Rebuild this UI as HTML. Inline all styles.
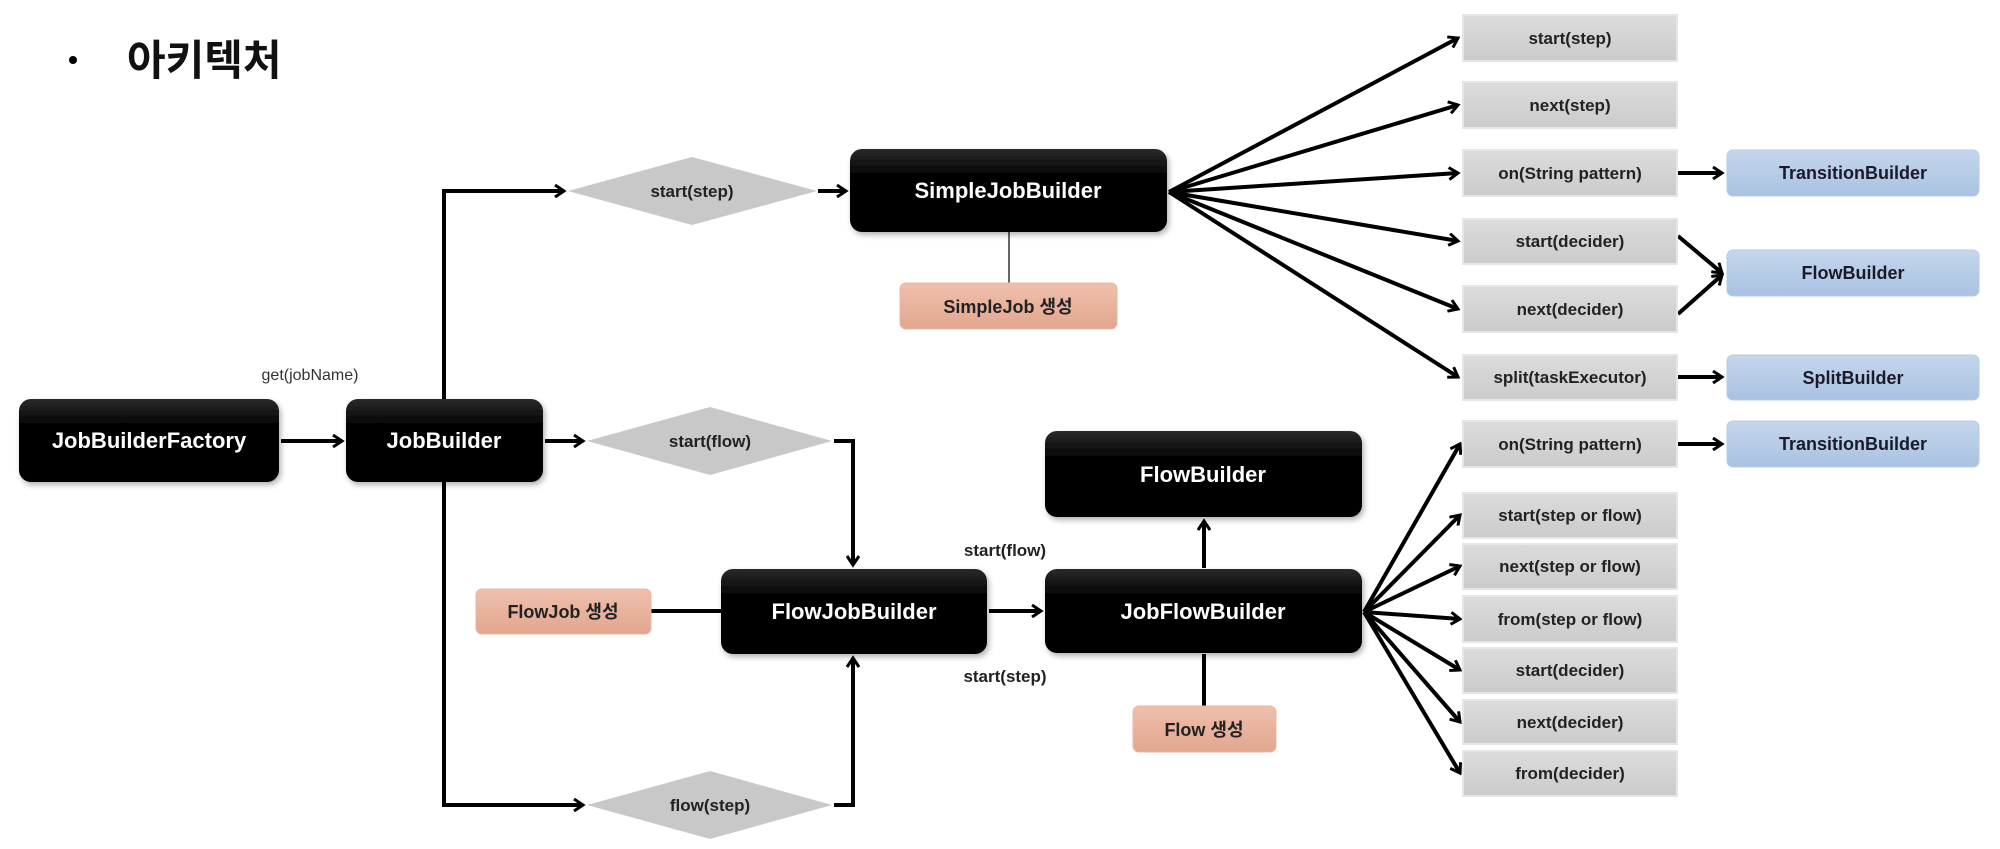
<!DOCTYPE html>
<html><head><meta charset="utf-8"><style>
html,body{margin:0;padding:0;background:#fff;}
svg{display:block;}
text{font-family:"Liberation Sans","Noto Sans CJK KR",sans-serif;font-weight:bold;}
</style></head><body>
<svg width="2000" height="849" viewBox="0 0 2000 849" xmlns="http://www.w3.org/2000/svg">
<defs>
<linearGradient id="blk" x1="0" y1="0" x2="0" y2="1"><stop offset="0" stop-color="#2a2a2a"/><stop offset="0.3" stop-color="#050505"/><stop offset="1" stop-color="#000"/></linearGradient>
<linearGradient id="gry" x1="0" y1="0" x2="0" y2="1"><stop offset="0" stop-color="#dcdcdc"/><stop offset="1" stop-color="#cbcbcb"/></linearGradient>
<linearGradient id="blu" x1="0" y1="0" x2="0" y2="1"><stop offset="0" stop-color="#c5d6ec"/><stop offset="1" stop-color="#a9c2e2"/></linearGradient>
<linearGradient id="sal" x1="0" y1="0" x2="0" y2="1"><stop offset="0" stop-color="#efc0ad"/><stop offset="1" stop-color="#e2a68e"/></linearGradient>
<marker id="ar" markerWidth="14" markerHeight="14" refX="11" refY="7" orient="auto" markerUnits="userSpaceOnUse">
<path d="M2,1 L11,7 L2,13" fill="none" stroke="#000" stroke-width="3"/></marker>
<filter id="sh" x="-5%" y="-10%" width="110%" height="130%"><feDropShadow dx="2" dy="3" stdDeviation="3" flood-color="#000" flood-opacity="0.3"/></filter>
</defs>

<!-- title -->
<circle cx="73" cy="60" r="4" fill="#000"/>
<text x="127" y="75" font-size="42" fill="#111" style="font-family:'Noto Sans CJK KR',sans-serif">아키텍처</text>

<!-- connectors left -->
<g stroke="#000" stroke-width="4" fill="none">
<line x1="281" y1="441" x2="342" y2="441" marker-end="url(#ar)"/>
<line x1="545" y1="441" x2="583" y2="441" marker-end="url(#ar)"/>
<polyline points="444,399 444,191 564,191" marker-end="url(#ar)"/>
<polyline points="444,482 444,805 583,805" marker-end="url(#ar)"/>
<line x1="818" y1="191" x2="846" y2="191" marker-end="url(#ar)"/>
<polyline points="834,441 853,441 853,565" marker-end="url(#ar)"/>
<polyline points="834,805 853,805 853,658" marker-end="url(#ar)"/>
<line x1="651" y1="611" x2="721" y2="611"/>
<line x1="989" y1="611" x2="1041" y2="611" marker-end="url(#ar)"/>
<line x1="1204" y1="568" x2="1204" y2="521" marker-end="url(#ar)"/>
<line x1="1204" y1="654" x2="1204" y2="707"/>
</g>
<line x1="1009" y1="232" x2="1009" y2="283" stroke="#666" stroke-width="2"/>

<!-- fan from SimpleJobBuilder -->
<g stroke="#000" stroke-width="4" fill="none">
<line x1="1169" y1="192" x2="1458" y2="38" marker-end="url(#ar)"/>
<line x1="1169" y1="192" x2="1458" y2="105" marker-end="url(#ar)"/>
<line x1="1169" y1="192" x2="1458" y2="173" marker-end="url(#ar)"/>
<line x1="1169" y1="192" x2="1458" y2="241" marker-end="url(#ar)"/>
<line x1="1169" y1="192" x2="1458" y2="309" marker-end="url(#ar)"/>
<line x1="1169" y1="192" x2="1458" y2="377" marker-end="url(#ar)"/>
<line x1="1678" y1="173" x2="1722" y2="173" marker-end="url(#ar)"/>
<line x1="1678" y1="236" x2="1722" y2="273" marker-end="url(#ar)"/>
<line x1="1678" y1="314" x2="1722" y2="275" marker-end="url(#ar)"/>
<line x1="1678" y1="377" x2="1722" y2="377" marker-end="url(#ar)"/>
<line x1="1678" y1="444" x2="1722" y2="444" marker-end="url(#ar)"/>
<!-- fan from JobFlowBuilder -->
<line x1="1364" y1="612" x2="1460" y2="444" marker-end="url(#ar)"/>
<line x1="1364" y1="612" x2="1460" y2="515" marker-end="url(#ar)"/>
<line x1="1364" y1="612" x2="1460" y2="566" marker-end="url(#ar)"/>
<line x1="1364" y1="612" x2="1460" y2="619" marker-end="url(#ar)"/>
<line x1="1364" y1="612" x2="1460" y2="670" marker-end="url(#ar)"/>
<line x1="1364" y1="612" x2="1460" y2="722" marker-end="url(#ar)"/>
<line x1="1364" y1="612" x2="1460" y2="773" marker-end="url(#ar)"/>
</g>

<!-- diamonds -->
<g fill="#c8c8c8">
<polygon points="568,191 692,157 817,191 692,225"/>
<polygon points="587,441 710,407 832,441 710,475"/>
<polygon points="587,805 710,771 832,805 710,839"/>
</g>
<g font-size="17" fill="#222" text-anchor="middle">
<text x="692" y="197">start(step)</text>
<text x="710" y="447">start(flow)</text>
<text x="710" y="811">flow(step)</text>
</g>

<!-- black boxes -->
<g fill="url(#blk)" filter="url(#sh)">
<rect x="19" y="399" width="260" height="83" rx="12"/>
<rect x="346" y="399" width="197" height="83" rx="12"/>
<rect x="850" y="149" width="317" height="83" rx="12"/>
<rect x="721" y="569" width="266" height="85" rx="12"/>
<rect x="1045" y="569" width="317" height="84" rx="12"/>
<rect x="1045" y="431" width="317" height="86" rx="12"/>
</g>
<g font-size="22" fill="#fff" text-anchor="middle">
<text x="149" y="448">JobBuilderFactory</text>
<text x="444" y="448">JobBuilder</text>
<text x="1008" y="198">SimpleJobBuilder</text>
<text x="854" y="619">FlowJobBuilder</text>
<text x="1203" y="619">JobFlowBuilder</text>
<text x="1203" y="482">FlowBuilder</text>
</g>

<!-- salmon -->
<g fill="url(#sal)" stroke="#e8b7a2" stroke-width="1">
<rect x="900" y="283" width="217" height="46" rx="6"/>
<rect x="476" y="589" width="175" height="45" rx="6"/>
<rect x="1133" y="706" width="143" height="46" rx="6"/>
</g>
<g font-size="18" fill="#222" text-anchor="middle">
<text x="1008" y="313">SimpleJob 생성</text>
<text x="563" y="618">FlowJob 생성</text>
<text x="1204" y="736">Flow 생성</text>
</g>

<!-- labels -->
<text x="310" y="380" font-size="16" fill="#333" text-anchor="middle" style="font-weight:normal">get(jobName)</text>
<text x="1005" y="556" font-size="17" fill="#222" text-anchor="middle">start(flow)</text>
<text x="1005" y="682" font-size="17" fill="#222" text-anchor="middle">start(step)</text>

<!-- gray boxes -->
<g fill="url(#gry)" stroke="#e6e6e6" stroke-width="2">
<rect x="1463" y="15" width="214" height="46"/>
<rect x="1463" y="82" width="214" height="46"/>
<rect x="1463" y="150" width="214" height="46"/>
<rect x="1463" y="219" width="214" height="45"/>
<rect x="1463" y="286" width="214" height="46"/>
<rect x="1463" y="355" width="214" height="45"/>
<rect x="1463" y="421" width="214" height="46"/>
<rect x="1463" y="493" width="214" height="45"/>
<rect x="1463" y="544" width="214" height="45"/>
<rect x="1463" y="596" width="214" height="46"/>
<rect x="1463" y="648" width="214" height="45"/>
<rect x="1463" y="700" width="214" height="44"/>
<rect x="1463" y="751" width="214" height="45"/>
</g>
<g font-size="17" fill="#222" text-anchor="middle">
<text x="1570" y="44">start(step)</text>
<text x="1570" y="111">next(step)</text>
<text x="1570" y="179">on(String pattern)</text>
<text x="1570" y="247">start(decider)</text>
<text x="1570" y="315">next(decider)</text>
<text x="1570" y="383">split(taskExecutor)</text>
<text x="1570" y="450">on(String pattern)</text>
<text x="1570" y="521">start(step or flow)</text>
<text x="1570" y="572">next(step or flow)</text>
<text x="1570" y="625">from(step or flow)</text>
<text x="1570" y="676">start(decider)</text>
<text x="1570" y="728">next(decider)</text>
<text x="1570" y="779">from(decider)</text>
</g>

<!-- blue boxes -->
<g fill="url(#blu)" stroke="#b5cbe6" stroke-width="1">
<rect x="1727" y="150" width="252" height="46" rx="6"/>
<rect x="1727" y="250" width="252" height="46" rx="6"/>
<rect x="1727" y="355" width="252" height="45" rx="6"/>
<rect x="1727" y="421" width="252" height="46" rx="6"/>
</g>
<g font-size="18" fill="#1a1a2a" text-anchor="middle">
<text x="1853" y="179">TransitionBuilder</text>
<text x="1853" y="279">FlowBuilder</text>
<text x="1853" y="384">SplitBuilder</text>
<text x="1853" y="450">TransitionBuilder</text>
</g>
</svg>
</body></html>
